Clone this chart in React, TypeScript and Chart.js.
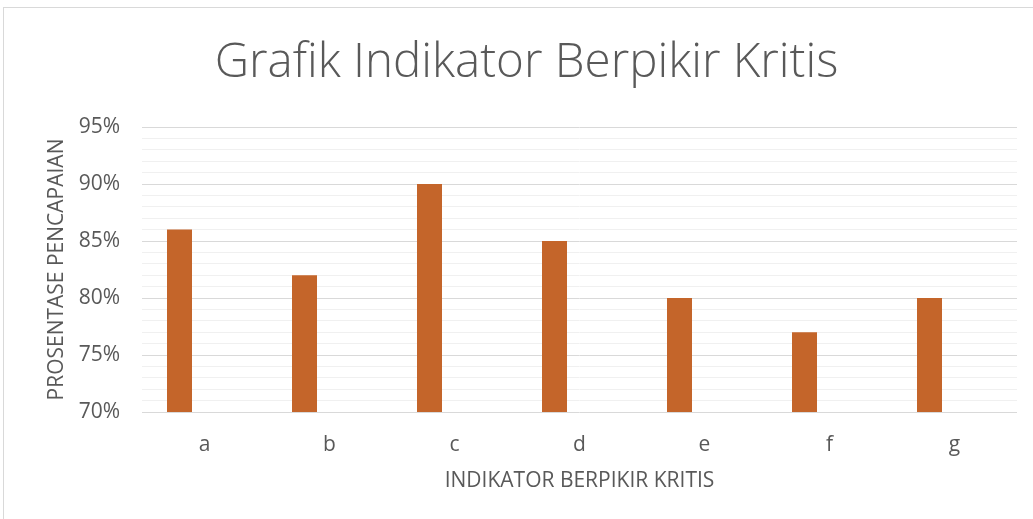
import React, { useEffect, useRef } from "react";
import { Chart, registerables } from "chart.js";

Chart.register(...registerables);

const categories = ["a", "b", "c", "d", "e", "f", "g"];
const seriesValues = [86, 82, 90, 85, 80, 77, 80];
const emptySeries2 = [null, null, null, null, null, null, null];
const emptySeries3 = [null, null, null, null, null, null, null];
const yTickLabels = ["70%", "75%", "80%", "85%", "90%", "95%"];

const chartTitle = "Grafik Indikator Berpikir Kritis";
const xTitle = "INDIKATOR BERPIKIR KRITIS";
const yTitle = "PROSENTASE PENCAPAIAN";

const FONT = "'Open Sans', 'Noto Sans', sans-serif";
const TEXT = "#595959";
const BAR = "#C4652A";

export default function App() {
  const ref = useRef<HTMLCanvasElement | null>(null);

  useEffect(() => {
    if (!ref.current) return;
    const chart = new Chart(ref.current, {
      type: "bar",
      data: {
        labels: categories,
        datasets: [
          { data: seriesValues, backgroundColor: BAR, borderWidth: 0 },
          { data: emptySeries2 as any, backgroundColor: BAR, borderWidth: 0 },
          { data: emptySeries3 as any, backgroundColor: BAR, borderWidth: 0 },
        ],
      },
      options: {
        animation: false,
        responsive: false,
        maintainAspectRatio: false,
        layout: { padding: { left: 36, right: 16, top: 0, bottom: 0 } },
        datasets: { bar: { categoryPercentage: 0.6, barPercentage: 1.0 } } as any,
        plugins: {
          legend: { display: false },
          tooltip: { enabled: false },
          title: {
            display: true,
            text: chartTitle,
            color: TEXT,
            font: { family: FONT, size: 47.5, weight: "300" as any },
            padding: { top: 35, bottom: 35 },
          },
        },
        scales: {
          x: {
            grid: { display: false },
            border: { display: false },
            ticks: {
              color: TEXT,
              font: { family: FONT, size: 21 },
              padding: 12,
            },
            title: {
              display: true,
              text: xTitle,
              color: TEXT,
              font: { family: FONT, size: 21 },
              padding: { top: 0, bottom: 25 },
            },
            afterFit: (s: any) => {
              s.height = 107;
            },
          },
          y: {
            min: 70,
            max: 95,
            border: { display: false },
            grid: {
              drawTicks: false,
              lineWidth: 1,
              color: (c: any) =>
                c.tick && c.tick.value % 5 === 0 ? "#d9d9d9" : "#f0f0f0",
            },
            ticks: {
              stepSize: 1,
              autoSkip: false,
              color: TEXT,
              font: { family: FONT, size: 21 },
              padding: 22,
              callback: (v: any) => {
                const n = Number(v);
                if (n % 5 !== 0) return "";
                return yTickLabels[(n - 70) / 5] ?? "";
              },
            },
            title: {
              display: true,
              text: yTitle,
              color: TEXT,
              font: { family: FONT, size: 21 },
              padding: { top: 8, bottom: 0 },
            },
            afterFit: (s: any) => {
              s.width = 106;
            },
          },
        },
      },
    });
    return () => chart.destroy();
  }, []);

  return (
    <div
      style={{
        position: "fixed",
        left: 0,
        top: 0,
        width: 1033,
        height: 519,
        background: "#fff",
        overflow: "hidden",
      }}
    >
      <div
        style={{
          position: "absolute",
          left: 3,
          top: 7,
          width: 1040,
          height: 530,
          border: "1px solid #d9d9d9",
          boxSizing: "border-box",
        }}
      />
      <canvas
        ref={ref}
        width={1033}
        height={519}
        style={{ position: "absolute", left: 0, top: 0 }}
      />
    </div>
  );
}
